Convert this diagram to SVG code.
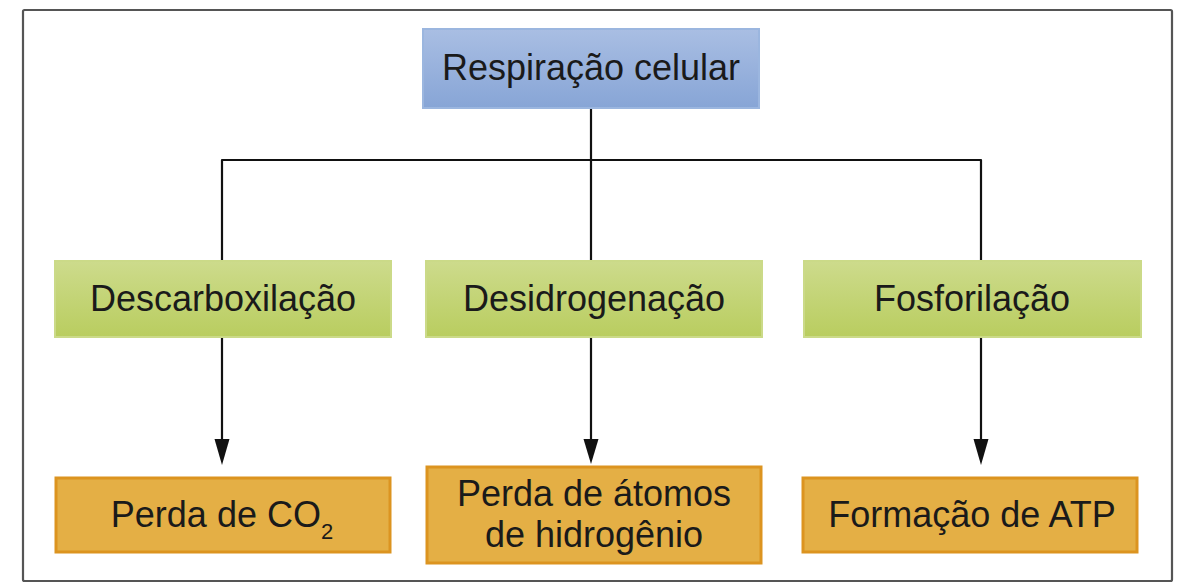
<svg xmlns="http://www.w3.org/2000/svg" width="1180" height="583" viewBox="0 0 1180 583">
<style>
.t{font-family:"Liberation Sans",Arial,sans-serif;font-size:36px;fill:#1a1a1a;text-anchor:middle}
.blue{fill:url(#gb);stroke:#9bb6df;stroke-width:2}
.green{fill:url(#gg);stroke:#cbda88;stroke-width:2}
.orange{fill:#e4af45;stroke:#dc9420;stroke-width:3}
.c{fill:none;stroke:#111;stroke-width:2.2;stroke-linejoin:round}
.ah{fill:#111}
</style>
<defs>
<linearGradient id="gb" x1="0" y1="0" x2="0" y2="1"><stop offset="0" stop-color="#a9bee3"/><stop offset="1" stop-color="#87a5d6"/></linearGradient>
<linearGradient id="gg" x1="0" y1="0" x2="0" y2="1"><stop offset="0" stop-color="#cddb8c"/><stop offset="1" stop-color="#b9cd5f"/></linearGradient>
</defs>
<rect x="0" y="0" width="1180" height="583" fill="#fff"/>
<rect x="23" y="10" width="1149" height="571" fill="none" stroke="#555" stroke-width="2.2" rx="1.5"/>
<g id="connectors">
<path class="c" d="M591,108 V160"/>
<path class="c" d="M222,440 V160 H981 V440"/>
<path class="c" d="M591,160 V440"/>
<path class="ah" d="M214.5,439 L229.5,439 L222,465 Z"/>
<path class="ah" d="M583.5,439 L598.5,439 L591,464 Z"/>
<path class="ah" d="M973.5,439 L988.5,439 L981,465 Z"/>
</g>
<g id="n-respiracao">
<rect class="blue" x="423" y="29" width="336" height="79"/>
<text class="t" x="591" y="80">Respiração celular</text>
</g>
<g id="n-descarboxilacao">
<rect class="green" x="55" y="261" width="336" height="76"/>
<text class="t" x="223" y="311">Descarboxilação</text>
</g>
<g id="n-desidrogenacao">
<rect class="green" x="426" y="261" width="336" height="76"/>
<text class="t" x="594" y="311">Desidrogenação</text>
</g>
<g id="n-fosforilacao">
<rect class="green" x="804" y="261" width="337" height="76"/>
<text class="t" x="972" y="311">Fosforilação</text>
</g>
<g id="n-co2">
<rect class="orange" x="56" y="478" width="334" height="74"/>
<text class="t" x="222" y="527">Perda de CO<tspan font-size="22" dy="12">2</tspan></text>
</g>
<g id="n-hidrogenio">
<rect class="orange" x="427" y="467" width="334" height="96"/>
<text class="t" x="594" y="506">Perda de átomos</text>
<text class="t" x="594" y="547">de hidrogênio</text>
</g>
<g id="n-atp">
<rect class="orange" x="803" y="478" width="334" height="74"/>
<text class="t" x="972" y="527">Formação de ATP</text>
</g>
</svg>
